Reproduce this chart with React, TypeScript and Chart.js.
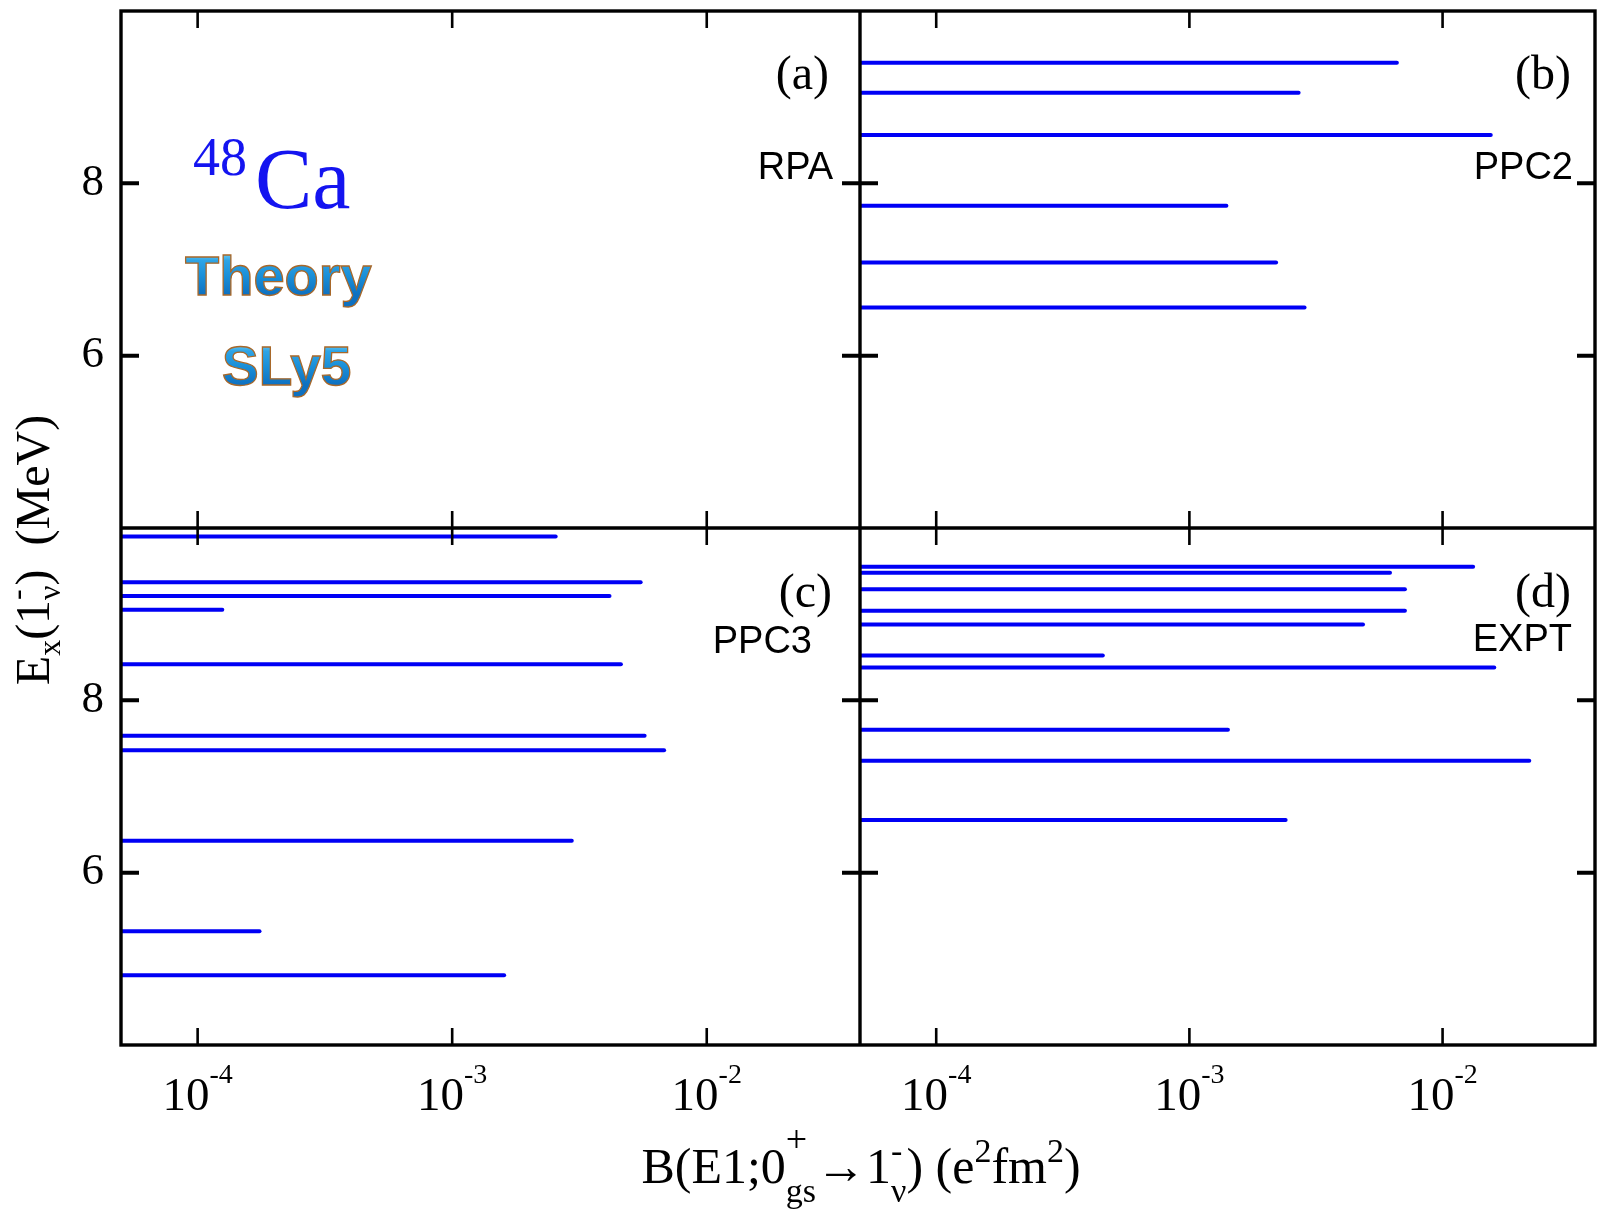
import React, { useEffect, useRef } from "react";
import { Chart, registerables } from "chart.js";

Chart.register(...registerables);

// ---------------- data ----------------
const X_MIN = 5e-5;
const X_MAX = 0.04;
const Y_MIN = 4;
const Y_MAX = 10;
const X_TICKS = [1e-4, 1e-3, 1e-2];
const X_TICK_BASE = ["10", "10", "10"];
const X_TICK_EXP = ["-4", "-3", "-2"];
const Y_TICKS = [6, 8];

// (a) RPA : no levels inside the plotted window
const RPA_E: number[] = [];
const RPA_B: number[] = [];
// (b) PPC2
const PPC2_E = [9.4, 9.05, 8.56, 7.74, 7.08, 6.56];
const PPC2_B = [6.6e-3, 2.7e-3, 1.55e-2, 1.4e-3, 2.2e-3, 2.85e-3];
// (c) PPC3
const PPC3_E = [9.9, 9.37, 9.21, 9.05, 8.42, 7.59, 7.42, 6.37, 5.32, 4.81];
const PPC3_B = [2.55e-3, 5.5e-3, 4.15e-3, 1.25e-4, 4.6e-3, 5.7e-3, 6.8e-3, 2.95e-3, 1.75e-4, 1.6e-3];
// (d) EXPT
const EXPT_E = [9.55, 9.48, 9.29, 9.04, 8.88, 8.52, 8.38, 7.66, 7.3, 6.61];
const EXPT_B = [1.32e-2, 6.2e-3, 7.1e-3, 7.1e-3, 4.85e-3, 4.55e-4, 1.6e-2, 1.42e-3, 2.2e-2, 2.4e-3];

const PANEL_TAGS = ["(a)", "(b)", "(c)", "(d)"];
const PANEL_MODELS = ["RPA", "PPC2", "PPC3", "EXPT"];

// ---------------- styles ----------------
const LINE_BLUE = "#0000f5";
const TEXT_BLUE = "#1414f0";
const SERIF = '"Liberation Serif", "Times New Roman", serif';
const SANS = '"Liberation Sans", Arial, sans-serif';

type Run = { t: string; k?: "n" | "sup" | "sub"; dy?: number; stack?: boolean; size?: number };
type RichCfg = { size: number; script: number; sup: number; sub: number; family: string };

function runFont(r: Run, c: RichCfg) {
  const s = r.size ?? (r.k && r.k !== "n" ? c.script : c.size);
  return `${s}px ${c.family}`;
}
function runDy(r: Run, c: RichCfg) {
  if (r.dy !== undefined) return r.dy;
  if (r.k === "sup") return -c.sup;
  if (r.k === "sub") return c.sub;
  return 0;
}
function richWidth(ctx: CanvasRenderingContext2D, runs: Run[], c: RichCfg) {
  let x = 0;
  let pend = 0;
  for (const r of runs) {
    ctx.font = runFont(r, c);
    const w = ctx.measureText(r.t).width;
    if (r.stack) pend = w;
    else {
      x += Math.max(w, pend);
      pend = 0;
    }
  }
  return x;
}
function richDraw(ctx: CanvasRenderingContext2D, runs: Run[], c: RichCfg, x0: number, y0: number) {
  let x = 0;
  let pend = 0;
  ctx.textAlign = "left";
  ctx.textBaseline = "alphabetic";
  for (const r of runs) {
    ctx.font = runFont(r, c);
    const w = ctx.measureText(r.t).width;
    ctx.fillText(r.t, x0 + x, y0 + runDy(r, c));
    if (r.stack) pend = w;
    else {
      x += Math.max(w, pend);
      pend = 0;
    }
  }
}

const X_TITLE: Run[] = [
  { t: "B(E1;0" },
  { t: "+", k: "sup", dy: -31, size: 38, stack: true },
  { t: "gs", k: "sub" },
  { t: "\u21921" },
  { t: "-", k: "sup", stack: true },
  { t: "\u03bd", k: "sub" },
  { t: ") (e" },
  { t: "2", k: "sup" },
  { t: "fm" },
  { t: "2", k: "sup" },
  { t: ")" },
];
const Y_TITLE: Run[] = [
  { t: "E" },
  { t: "x", k: "sub" },
  { t: "(1" },
  { t: "-", k: "sup", stack: true },
  { t: "\u03bd", k: "sub" },
  { t: ")  (MeV)" },
];

function fancyText(ctx: CanvasRenderingContext2D, text: string, x: number, y: number, size: number) {
  ctx.font = `bold ${size}px ${SANS}`;
  ctx.textAlign = "left";
  ctx.textBaseline = "alphabetic";
  const g = ctx.createLinearGradient(0, y - size * 0.75, 0, y);
  g.addColorStop(0, "#6fd0f8");
  g.addColorStop(0.18, "#2ea4e6");
  g.addColorStop(0.55, "#1a8fd8");
  g.addColorStop(1, "#0e70c0");
  ctx.fillStyle = g;
  ctx.fillText(text, x, y);
  ctx.strokeStyle = "#a8682a";
  ctx.lineWidth = 1.3;
  ctx.strokeText(text, x, y);
}

function levels(E: number[], B: number[], xAxisID: string, yAxisID: string, name: string) {
  return E.map((e, i) => ({
    label: `${name} ${e}`,
    data: [
      { x: X_MIN, y: e },
      { x: B[i], y: e },
    ],
    xAxisID,
    yAxisID,
    showLine: true,
    borderColor: LINE_BLUE,
    backgroundColor: LINE_BLUE,
    borderWidth: 4,
    borderCapStyle: "round" as const,
    pointRadius: 0,
    pointHoverRadius: 0,
    fill: false,
  }));
}

function xScale(weight: number, stackWeight: number) {
  return {
    type: "logarithmic" as const,
    position: "bottom" as const,
    stack: "h",
    stackWeight,
    weight,
    min: X_MIN,
    max: X_MAX,
    ticks: { display: false },
    grid: { display: false, drawTicks: false },
    border: { display: false },
    afterFit: (s: any) => {
      s.height = 165;
      s.paddingLeft = 0;
      s.paddingRight = 0;
      s.paddingTop = 0;
      s.paddingBottom = 0;
    },
  };
}
function yScale(weight: number) {
  return {
    type: "linear" as const,
    position: "left" as const,
    stack: "v",
    stackWeight: 1,
    weight,
    min: Y_MIN,
    max: Y_MAX,
    afterBuildTicks: (s: any) => {
      s.ticks = Y_TICKS.map((v) => ({ value: v }));
    },
    ticks: {
      color: "#000",
      padding: 17,
      font: { family: SERIF, size: 45 },
      callback: (v: any) => String(v),
    },
    grid: { display: false, drawTicks: false },
    border: { display: false },
    afterFit: (s: any) => {
      s.width = 121;
      s.paddingTop = 0;
      s.paddingBottom = 0;
      s.paddingLeft = 0;
      s.paddingRight = 0;
    },
  };
}

const decorPlugin = {
  id: "decor",
  afterDraw(chart: any) {
    const ctx: CanvasRenderingContext2D = chart.ctx;
    const { xL, xR, yT, yB } = chart.scales;
    const panels = [
      { x: xL, y: yT },
      { x: xR, y: yT },
      { x: xL, y: yB },
      { x: xR, y: yB },
    ];
    ctx.save();
    ctx.strokeStyle = "#000";
    ctx.lineCap = "butt";
    // inner ticks
    for (const p of panels) {
      ctx.lineWidth = 2.6;
      for (const v of X_TICKS) {
        const px = p.x.getPixelForValue(v);
        ctx.beginPath();
        ctx.moveTo(px, p.y.bottom);
        ctx.lineTo(px, p.y.bottom - 17);
        ctx.moveTo(px, p.y.top);
        ctx.lineTo(px, p.y.top + 17);
        ctx.stroke();
      }
      ctx.lineWidth = 4;
      for (const v of Y_TICKS) {
        const py = p.y.getPixelForValue(v);
        ctx.beginPath();
        ctx.moveTo(p.x.left, py);
        ctx.lineTo(p.x.left + 18, py);
        ctx.moveTo(p.x.right, py);
        ctx.lineTo(p.x.right - 18, py);
        ctx.stroke();
      }
    }
    // frames
    ctx.lineWidth = 3.4;
    ctx.strokeRect(xL.left, yT.top, xR.right - xL.left, yB.bottom - yT.top);
    ctx.beginPath();
    ctx.moveTo(xL.right, yT.top);
    ctx.lineTo(xL.right, yB.bottom);
    ctx.moveTo(xL.left, yT.bottom);
    ctx.lineTo(xR.right, yT.bottom);
    ctx.stroke();

    ctx.fillStyle = "#000";
    // x tick labels with superscripts
    const tickCfg: RichCfg = { size: 47, script: 28, sup: 27, sub: 0, family: SERIF };
    for (const xs of [xL, xR]) {
      X_TICKS.forEach((v, i) => {
        const runs: Run[] = [{ t: X_TICK_BASE[i] }, { t: X_TICK_EXP[i], k: "sup" }];
        const w = richWidth(ctx, runs, tickCfg);
        const px = xs.getPixelForValue(v);
        richDraw(ctx, runs, tickCfg, px - w / 2, yB.bottom + 65);
      });
    }
    // x title
    const xtCfg: RichCfg = { size: 50, script: 34, sup: 21, sub: 19, family: SERIF };
    const xtw = richWidth(ctx, X_TITLE, xtCfg);
    richDraw(ctx, X_TITLE, xtCfg, (xL.left + xR.right) / 2 + 3 - xtw / 2, 1183);
    // y title (rotated)
    const ytCfg: RichCfg = { size: 48, script: 32, sup: 22, sub: 11, family: SERIF };
    const ytw = richWidth(ctx, Y_TITLE, ytCfg);
    ctx.save();
    ctx.translate(49, (yT.top + yB.bottom) / 2 + 22);
    ctx.rotate(-Math.PI / 2);
    richDraw(ctx, Y_TITLE, ytCfg, -ytw / 2, 0);
    ctx.restore();

    // panel tags and model names
    const tagPos = [
      { dx: 31, dy: 78, mdx: 27, mdy: 168 },
      { dx: 24, dy: 78, mdx: 22, mdy: 168 },
      { dx: 28, dy: 79, mdx: 48, mdy: 125 },
      { dx: 24, dy: 79, mdx: 23, mdy: 123 },
    ];
    panels.forEach((p, i) => {
      const tp = tagPos[i];
      ctx.textAlign = "right";
      ctx.textBaseline = "alphabetic";
      ctx.fillStyle = "#000";
      ctx.font = `48px ${SERIF}`;
      ctx.fillText(PANEL_TAGS[i], p.x.right - tp.dx, p.y.top + tp.dy);
      ctx.font = `38px ${SANS}`;
      ctx.fillText(PANEL_MODELS[i], p.x.right - tp.mdx, p.y.top + tp.mdy);
    });

    // 48Ca label
    ctx.textAlign = "left";
    ctx.fillStyle = TEXT_BLUE;
    ctx.font = `54px ${SERIF}`;
    ctx.fillText("48", xL.left + 72, yT.top + 164);
    ctx.font = `86px ${SERIF}`;
    ctx.fillText("Ca", xL.left + 134, yT.top + 197);
    fancyText(ctx, "Theory", xL.left + 64, yT.top + 284, 56);
    fancyText(ctx, "SLy5", xL.left + 101, yT.top + 374, 55);
    ctx.restore();
  },
};

export default function App() {
  const ref = useRef<HTMLCanvasElement | null>(null);
  useEffect(() => {
    if (!ref.current) return;
    const datasets = [
      ...levels(RPA_E, RPA_B, "xL", "yT", "RPA"),
      ...levels(PPC2_E, PPC2_B, "xR", "yT", "PPC2"),
      ...levels(PPC3_E, PPC3_B, "xL", "yB", "PPC3"),
      ...levels(EXPT_E, EXPT_B, "xR", "yB", "EXPT"),
    ];
    const chart = new Chart(ref.current, {
      type: "scatter",
      data: { datasets: datasets as any },
      options: {
        responsive: false,
        animation: false,
        devicePixelRatio: 1,
        layout: { padding: { top: 11, right: 2, left: 0, bottom: 0 } },
        plugins: { legend: { display: false }, tooltip: { enabled: false } },
        events: [],
        scales: {
          xL: xScale(0, 739),
          xR: xScale(1, 735),
          yT: yScale(1),
          yB: yScale(0),
        } as any,
      },
      plugins: [decorPlugin],
    });
    return () => chart.destroy();
  }, []);
  return (
    <div style={{ position: "absolute", left: 0, top: 0, width: 1597, height: 1210, background: "#fff" }}>
      <canvas ref={ref} width={1597} height={1210} style={{ display: "block" }} />
    </div>
  );
}
